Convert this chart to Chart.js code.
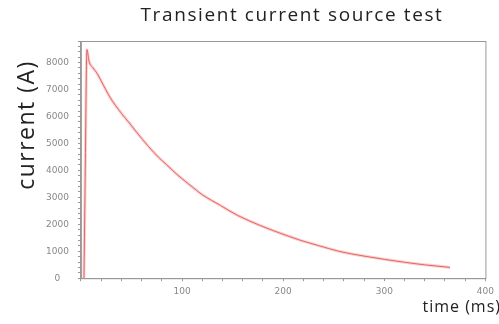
<!DOCTYPE html>
<html>
<head>
<meta charset="utf-8">
<script src="https://cdn.jsdelivr.net/npm/chart.js@4/dist/chart.umd.min.js"></script>
<style>
  html, body { margin: 0; padding: 0; background: #fff; }
  #wrap { width: 499px; height: 324px; }
</style>
</head>
<body>
<div id="wrap"><canvas id="c"></canvas></div>
<script>
// time (ms) and current (A)
const timeMs = [3, 4, 6, 8, 12, 16, 20, 29, 40, 47, 55, 67, 77, 85, 95, 109, 120, 138, 155, 177, 195, 216, 235, 255, 280, 300, 320, 340, 365]
const currentA = [0, 3000, 8480, 8050, 7800, 7600, 7320, 6700, 6120, 5800, 5420, 4880, 4480, 4200, 3850, 3420, 3100, 2700, 2330, 1960, 1700, 1420, 1210, 1000, 820, 700, 590, 495, 400]
const xTickLabels = [100, 200, 300, 400]
const yTickLabels = [0, 1000, 2000, 3000, 4000, 5000, 6000, 7000, 8000]

const points = timeMs.map((t, i) => ({ x: t, y: currentA[i] }))

// every 20 ms / 200 A gets a small tick, only the labelled ones get text
const minor = (lo, hi, step) => {
	const out = []
	for (let v = lo; v <= hi; v += step) out.push({ value: v })
	return out
}

const texts = {
	id: 'texts',
	afterDraw(chart) {
		const { ctx, chartArea: a } = chart
		ctx.save()
		ctx.strokeStyle = '#999'
		ctx.lineWidth = 1
		ctx.strokeRect(a.left + 0.5, a.top + 0.5, a.right - a.left, a.bottom - a.top)

		ctx.fillStyle = '#222'
		ctx.textAlign = 'center'
		ctx.textBaseline = 'middle'
		ctx.letterSpacing = '1.6px'
		ctx.font = '19px "Open Sans"'
		ctx.fillText('Transient current source test', 292, 16)

		ctx.letterSpacing = '1.5px'
		ctx.font = '23px "Open Sans"'
		ctx.translate(27, 125)
		ctx.rotate(-Math.PI / 2)
		ctx.fillText('current (A)', 0, 0)
		ctx.restore()

		ctx.save()
		ctx.fillStyle = '#222'
		ctx.textAlign = 'right'
		ctx.textBaseline = 'middle'
		ctx.letterSpacing = '1px'
		ctx.font = '16px "Open Sans"'
		ctx.fillText('time (ms)', 501, 307)
		ctx.restore()
	}
}

new Chart(document.getElementById('c'), {
	type: 'line',
	data: {
		datasets: [
			{
				data: points, borderColor: 'rgba(245,150,150,0.45)', borderWidth: 3,
				pointRadius: 0, cubicInterpolationMode: 'monotone'
			},
			{
				data: points, borderColor: '#d83c3c', borderWidth: 1,
				pointRadius: 0, cubicInterpolationMode: 'monotone'
			}
		]
	},
	options: {
		responsive: true,
		maintainAspectRatio: false,
		animation: false,
		layout: { padding: { left: 37, right: 12, top: 41, bottom: 22 } },
		plugins: {
			legend: { display: false },
			tooltip: { enabled: false },
			title: { display: false }
		},
		scales: {
			x: {
				type: 'linear', min: 0, max: 400,
				afterBuildTicks: axis => { axis.ticks = minor(0, 400, 20) },
				grid: { drawOnChartArea: false, tickLength: 3, color: '#999' },
				border: { color: '#999' },
				ticks: {
					color: '#888', font: { family: 'DejaVu Sans', size: 9 }, padding: 5,
					autoSkip: false, maxRotation: 0,
					callback: v => xTickLabels.includes(v) ? String(v) : ''
				}
			},
			y: {
				min: 0, max: 8800,
				afterBuildTicks: axis => { axis.ticks = minor(0, 8800, 200) },
				grid: { drawOnChartArea: false, tickLength: 3, color: '#999' },
				border: { color: '#999' },
				ticks: {
					color: '#888', font: { family: 'DejaVu Sans', size: 9 }, padding: 9,
					autoSkip: false, crossAlign: 'center',
					callback: v => yTickLabels.includes(v) ? String(v) : ''
				}
			}
		}
	},
	plugins: [texts]
})
</script>
</body>
</html>
